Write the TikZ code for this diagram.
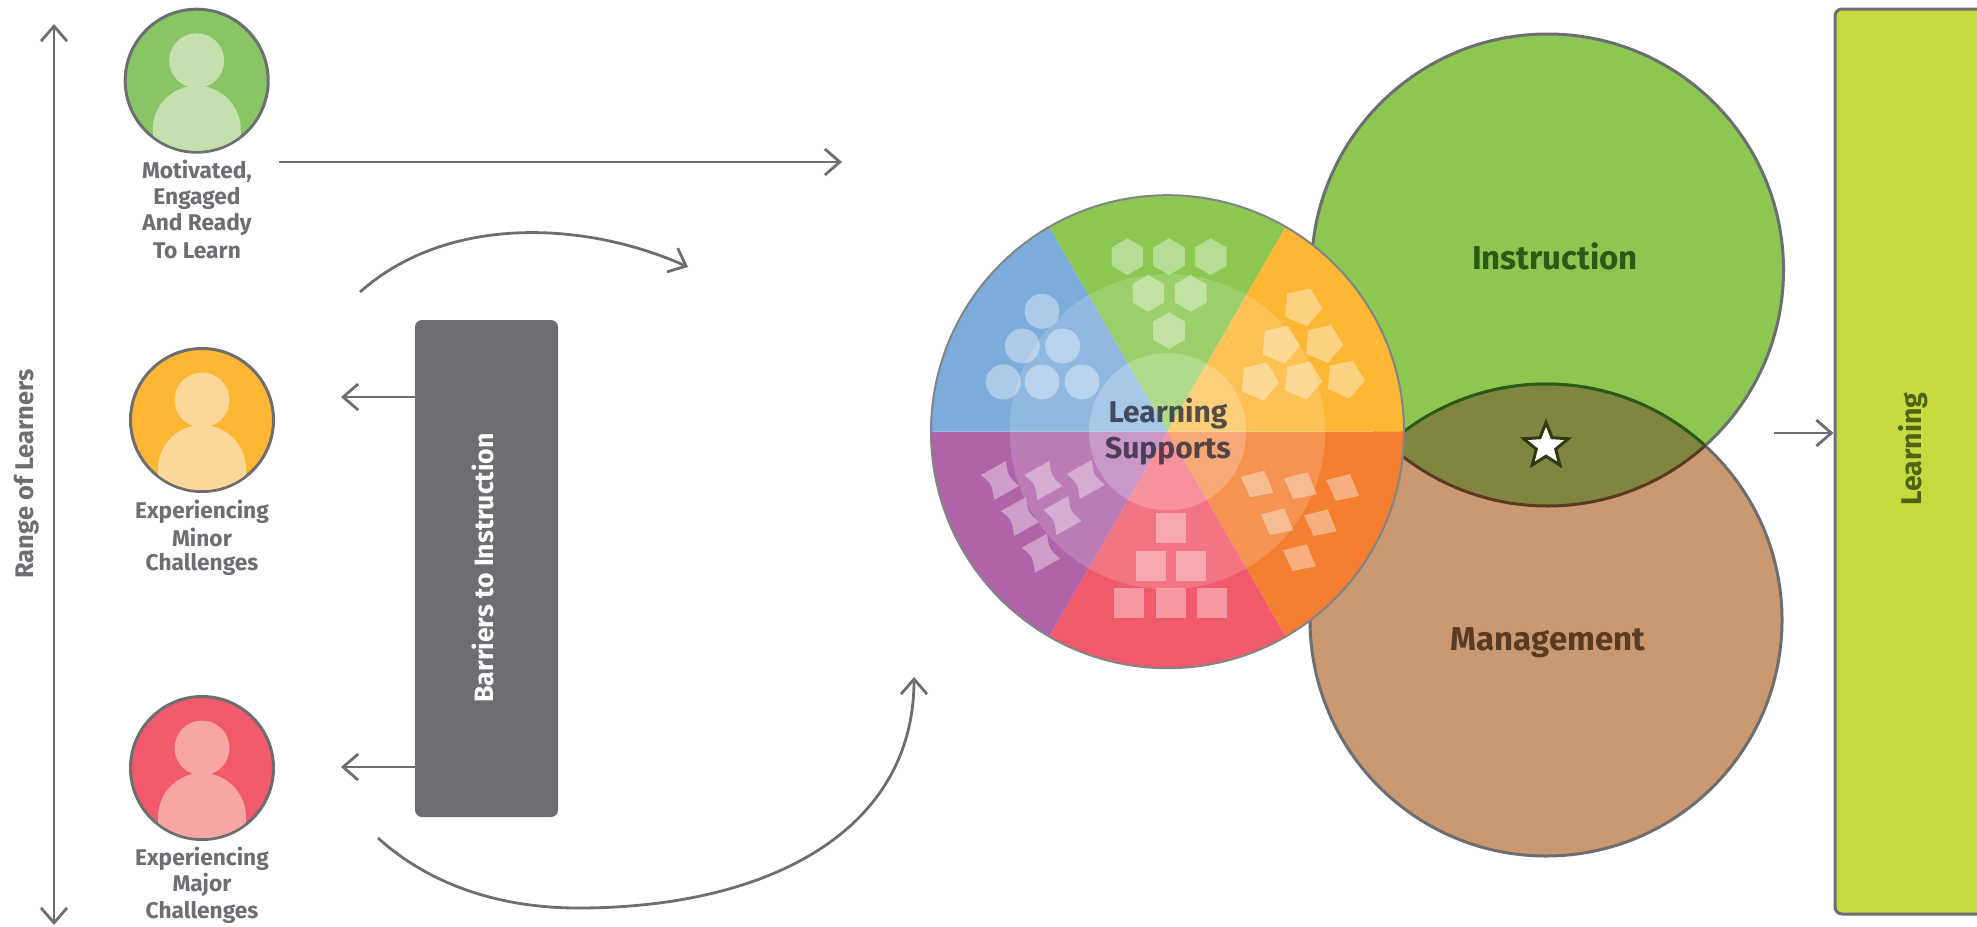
\documentclass[tikz,border=0pt]{standalone}
\usepackage{fontspec}
\setmainfont{Fira Sans}
\usetikzlibrary{arrows.meta,shapes.geometric,calc}
\definecolor{linegray}{HTML}{6D6E71}
\definecolor{pblue}{HTML}{7BACDC}
\definecolor{pgreen}{HTML}{8BC751}
\definecolor{pgreenb}{HTML}{88C665}
\definecolor{pyellow}{HTML}{FDB735}
\definecolor{porange}{HTML}{F47F31}
\definecolor{pred}{HTML}{F15A6B}
\definecolor{ppurple}{HTML}{B063A9}
\definecolor{pbrown}{HTML}{CA9971}
\definecolor{plens}{HTML}{80853F}
\definecolor{plime}{HTML}{C7DB41}
\definecolor{dkgreen}{HTML}{2A5A14}
\definecolor{dkbrown}{HTML}{5A3A20}
\definecolor{dklime}{HTML}{4F6312}
\definecolor{starline}{HTML}{2F3A10}
\definecolor{lstextc}{HTML}{2B2B3B}
\newcommand{\fs}[1]{\fontsize{#1}{#1}\selectfont}
\tikzset{
  arr/.style={draw=linegray,line width=2.8pt,-{Straight Barb[length=15pt,width=26pt,line width=2.8pt]}},
  arrs/.style={draw=linegray,line width=2.8pt,{Straight Barb[length=15pt,width=26pt,line width=2.8pt]}-{Straight Barb[length=15pt,width=26pt,line width=2.8pt]}},
  person/.style={circle,draw=linegray,line width=3pt,minimum size=143pt,inner sep=0pt},
  plabel/.style={text=linegray,align=center,font=\fs{22.7}\bfseries,inner sep=0pt},
  bigcirc/.style={circle,draw=linegray,line width=3pt,minimum size=472pt,inner sep=0pt},
  light/.style={white,fill opacity=.38},
}
\begin{document}
\begin{tikzpicture}[x=1pt,y=-1pt]
\useasboundingbox (0,0) rectangle (1977,926);
% big circles
\node[bigcirc,fill=pgreen] (instr) at (1547.5,270) {};
\node[bigcirc,fill=pbrown] (mgmt) at (1546,620) {};
\begin{scope}
  \clip (1547.5,270) circle[radius=236];
  \fill[plens] (1546,620) circle[radius=236];
  \draw[dkgreen,line width=3pt] (1546,620) circle[radius=236];
\end{scope}
\begin{scope}
  \clip (1546,620) circle[radius=236];
  \draw[dkbrown,line width=3pt] (1547.5,270) circle[radius=236];
\end{scope}
\node[star,star points=5,star point ratio=2.3,draw=starline,fill=white,line width=3pt,minimum size=47pt,inner sep=0pt] (starnode) at (1546,446) {};
\node[font=\fs{33}\bfseries,text=dkgreen,inner sep=0pt] (instrtext) at (1555,256) {Instruction};
\node[font=\fs{33}\bfseries,text=dkbrown,inner sep=0pt] (mgmttext) at (1548,643) {Management};
% pie
\begin{scope}
  \clip (1167.5,431.7) circle[radius=236.5];
  \coordinate (pc) at (1167.5,431.7);
  \foreach \a/\c in {0/porange,60/pred,120/ppurple,180/pblue,240/pgreen,300/pyellow}{
    \fill[\c] (pc) -- ($(pc)+({\a}:400)$) -- ($(pc)+({\a+30}:500)$) -- ($(pc)+({\a+60}:400)$) -- cycle;
  }
  \fill[white,fill opacity=.16] (pc) circle[radius=157.7];
  \fill[white,fill opacity=.22] (pc) circle[radius=78.7];
\end{scope}
\node[circle,draw=linegray!85,line width=2pt,minimum size=473pt,inner sep=0pt] (pie) at (1167.5,431.7) {};
% decorative shapes of the pie
\foreach \zx/\zy in {366/394,307/498,428/498,250/606,366/606,486/606}
  \fill[light] ({920+\zx/3},{180+\zy/3}) circle[radius=17.5];
\foreach \zx/\zy in {622/230,747/230,872/230,685/340,812/340,747/452}
  \fill[light] plot[samples at={0,60,...,300},variable=\t] ({920+\zx/3+18.3*cos(\t-90)},{180+\zy/3+18.3*sin(\t-90)}) -- cycle;
\foreach \zx/\zy in {1147/380,1080/492,1210/490,1017/603,1147/600,1275/597}
  \fill[light] plot[samples at={0,72,...,288},variable=\t] ({920+\zx/3+20*cos(\t-67)},{180+\zy/3+20*sin(\t-67)}) -- cycle;
\foreach \zx/\zy in {1010/912,1140/917,1267/922,1070/1025,1200/1028,1137/1133}
  \fill[light,shift={({920+\zx/3},{180+\zy/3})}] (-16,-7.3) -- (7.7,-13.3) -- (16.7,8.7) -- (-6.7,13.3) -- cycle;
\foreach \zx/\zy in {753/1045,693/1158,813/1158,628/1270,753/1270,877/1270}
  \fill[light] ({920+\zx/3-15},{180+\zy/3-15}) rectangle +(30,30);
\foreach \zx/\zy in {240/900,370/900,497/897,300/1008,427/1005,363/1118}
  \fill[light,shift={({920+\zx/3},{180+\zy/3})}] (-19,-5) -- (6,-19) .. controls (8,-4) .. (19,6) -- (-6,20) .. controls (-8,4.5) .. cycle;
\node[font=\fs{30}\bfseries,text=lstextc,text opacity=.8,align=center,inner sep=0pt] (lstext) at (1168,414) {Learning};
\node[font=\fs{30}\bfseries,text=lstextc,text opacity=.8,align=center,inner sep=0pt] (lstext2) at (1168,451.5) {Supports};
% persons
\foreach \n/\px/\py/\c/\b in {p1/196.7/80.7/pgreenb/C5E0AE,p2/202/420/pyellow/FED898,p3/202/768/pred/F7A5A5}{
  \definecolor{bodycol}{HTML}{\b}
  \node[person,fill=\c] (\n) at (\px,\py) {};
  \begin{scope}
    \clip (\px,\py) circle[radius=70];
    \fill[bodycol] (\px,\py-20) circle[radius=27.5];
    \fill[bodycol] (\px,\py+49) circle[radius=44];
    \fill[bodycol] ({\px-44},{\py+49}) rectangle ({\px+44},{\py+80});
  \end{scope}
}
\node[plabel] (l1a) at (197,171.5) {Motivated,};
\node[plabel] (l1b) at (197,198.5) {Engaged};
\node[plabel] (l1c) at (197,224.5) {And Ready};
\node[plabel] (l1d) at (197,251) {To Learn};
\node[plabel] (l2a) at (202,511.5) {Experiencing};
\node[plabel] (l2b) at (202,537) {Minor};
\node[plabel] (l2c) at (202,564.5) {Challenges};
\node[plabel] (l3a) at (202,858.5) {Experiencing};
\node[plabel] (l3b) at (202,885) {Major};
\node[plabel] (l3c) at (202,912) {Challenges};
% range
\coordinate (rtop) at (54,24);
\coordinate (rbot) at (54,925);
\draw[arrs] (rtop) -- (rbot);
\node[rotate=90,font=\fs{25.5}\bfseries,text=linegray,inner sep=0pt] (rangetext) at (27,474) {Range of Learners};
% top arrow
\coordinate (t1) at (279,162);
\coordinate (t2) at (842,162);
\draw[arr] (t1) -- (t2);
% top curved arrow
\coordinate (c1) at (360,292);
\coordinate (c2) at (688,267);
\draw[arr] (c1) .. controls (449,213) and (588,222) .. (c2);
% barrier
\node[draw=none,fill=linegray,rounded corners=7pt,minimum width=143pt,minimum height=497pt,inner sep=0pt] (barrier) at (486.5,568.5) {};
\node[rotate=90,font=\fs{26.6}\bfseries,text=white,inner sep=0pt] (barriertext) at (483,568) {Barriers to Instruction};
\coordinate (b1) at (341,397);
\coordinate (b2) at (341,767);
\draw[arr] (b1 -| barrier.west) -- (b1);
\draw[arr] (b2 -| barrier.west) -- (b2);
% bottom curved arrow
\coordinate (d1) at (378,838);
\coordinate (dm) at (578,908);
\coordinate (d2) at (914,677);
\draw[arr] (d1) .. controls (430,885) and (500,908) .. (dm) .. controls (770,908) and (914,830) .. (d2);
% learning
\coordinate (e1) at (1774,433);
\node[draw=linegray,line width=3pt,fill=plime,rounded corners=7pt,minimum width=240pt,minimum height=905pt,inner sep=0pt] (learnbox) at (1955,461.5) {};
\draw[arr] (e1) -- (e1 -| learnbox.west);
\node[rotate=90,font=\fs{28.5}\bfseries,text=dklime,inner sep=0pt] (learntext) at (1913,449) {Learning};
\end{tikzpicture}
\end{document}
